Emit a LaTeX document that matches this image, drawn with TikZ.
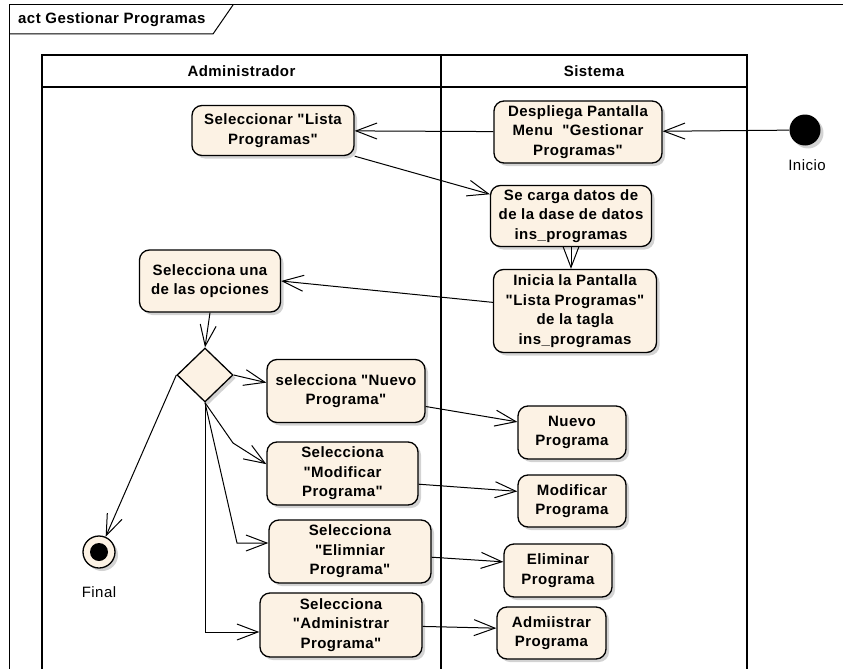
\documentclass[tikz,border=0pt]{standalone}
\usepackage{fontspec}
\newfontfamily\umlfont{Liberation Sans}[LetterSpace=3.0]
\usetikzlibrary{arrows.meta,shapes.geometric,shadows}
\definecolor{ActFill}{RGB}{252,242,228}
\definecolor{ActShadow}{RGB}{168,168,168}

\begin{document}
\begin{tikzpicture}[x=1pt,y=-1pt,>={Straight Barb[length=21pt,width=16pt]},
  umltext/.style={font=\umlfont\bfseries\fontsize{15}{19.5}\selectfont},
  plaintext/.style={font=\umlfont\fontsize{15}{19.5}\selectfont},
  action/.style={umltext, draw, line width=1.3pt, rounded corners=10pt, fill=ActFill,
    drop shadow={shadow xshift=3pt,shadow yshift=-3pt,fill=ActShadow},
    align=center, inner sep=0pt},
  decision/.style={diamond, draw, line width=1.3pt, fill=ActFill,
    drop shadow={shadow xshift=3pt,shadow yshift=-3pt,fill=ActShadow},
    inner sep=0pt, minimum width=56pt, minimum height=54pt},
  startstate/.style={circle, fill=black, inner sep=0pt, minimum size=31pt,
    drop shadow={shadow xshift=3pt,shadow yshift=-3pt,fill=ActShadow}},
  endstate/.style={circle, draw, line width=1.3pt, fill=ActFill, inner sep=0pt, minimum size=32pt,
    drop shadow={shadow xshift=3pt,shadow yshift=-3pt,fill=ActShadow}},
  flow/.style={->, line width=1pt},
  lane/.style={line width=1.5pt}]
\useasboundingbox (0,0) rectangle (843,669);

% frame and title tab
\draw[line width=1pt] (9,669) -- (9,5) -- (843,5);
\draw[line width=1pt] (9,34) -- (213,34) -- (233,5);
\node[umltext, anchor=west, inner sep=0pt] (title) at (18,20) {act Gestionar Programas};

% swimlanes
\draw[lane] (42,669) -- (42,55) -- (747,55) -- (747,669);
\draw[lane] (42,87) -- (747,87);
\draw[lane] (441,55) -- (441,669);
\node[umltext] (admlane) at (241.5,71) {Administrador};
\node[umltext] (syslane) at (594,71) {Sistema};

% start / end
\node[startstate] (ini) at (805,130) {};
\node[plaintext] (inilbl) at (807,165) {Inicio};
\node[endstate] (fin) at (99,552) {};
\fill (fin) circle (9pt);
\node[plaintext] (finlbl) at (99,592) {Final};

% Sistema
\node[action, minimum width=168pt, minimum height=62pt] (despl) at (578,132)
  {Despliega Pantalla\\Menu~~"Gestionar\\Programas"};
\node[action, minimum width=161pt, minimum height=61pt] (carga) at (571,216)
  {Se carga datos de\\de la dase de datos\\ins\_programas};
\node[action, minimum width=163pt, minimum height=83pt] (inicia) at (575,311)
  {Inicia la Pantalla\\"Lista Programas"\\de la tagla\\ins\_programas};
\node[action, minimum width=108pt, minimum height=53pt] (nuevo) at (572,432.5)
  {Nuevo\\Programa};
\node[action, minimum width=108pt, minimum height=52pt] (modif) at (572,501)
  {Modificar\\Programa};
\node[action, minimum width=108pt, minimum height=53pt] (elim) at (558,570.5)
  {Eliminar\\Programa};
\node[action, minimum width=109pt, minimum height=52pt] (admi) at (551.5,633)
  {Admiistrar\\Programa};

% Administrador
\node[action, minimum width=162pt, minimum height=50pt] (listsel) at (273,130.5)
  {Seleccionar "Lista\\Programas"};
\node[action, minimum width=141pt, minimum height=62pt] (opc) at (210,281)
  {Selecciona una\\de las opciones};
\node[decision] (dec) at (205,375) {};
\node[action, minimum width=158pt, minimum height=63pt] (nsel) at (346,391)
  {selecciona "Nuevo\\Programa"};
\node[action, minimum width=151pt, minimum height=63pt] (msel) at (342.5,473.5)
  {Selecciona\\"Modificar\\Programa"};
\node[action, minimum width=162pt, minimum height=63pt] (esel) at (350,551.5)
  {Selecciona\\"Elimniar\\Programa"};
\node[action, minimum width=162pt, minimum height=64pt] (asel) at (341,625)
  {Selecciona\\"Administrar\\Programa"};

\coordinate (mbend) at (233,443);
\coordinate (ebend) at (237,543);
\coordinate (abend) at (205,632);

% flows
\draw[flow] (ini) -- (despl);
\draw[flow] (despl) -- (listsel);
\draw[flow] (listsel.south east) -- (carga.165);
\draw[flow] (carga.south) -- (carga.south |- inicia.north);
\draw[flow] (inicia.174) -- (opc.east);
\draw[flow] (opc.south) -- (dec.north);
\draw[flow] (dec.east) -- (nsel.174);
\draw[flow] (dec.south) -- (mbend) -- (msel.173);
\draw[flow] (dec.south) -- (ebend) -- (ebend -| esel.west);
\draw[flow] (dec.south) -- (abend) -- (abend -| asel.west);
\draw[flow] (dec.west) -- (fin);
\draw[flow] (nsel.-11) -- (nuevo.169);
\draw[flow] (msel.-8) -- (modif.170);
\draw[flow] (esel.-4.6) -- (elim.171);
\draw[flow] (asel.-1.4) -- (admi.175);
\end{tikzpicture}
\end{document}
